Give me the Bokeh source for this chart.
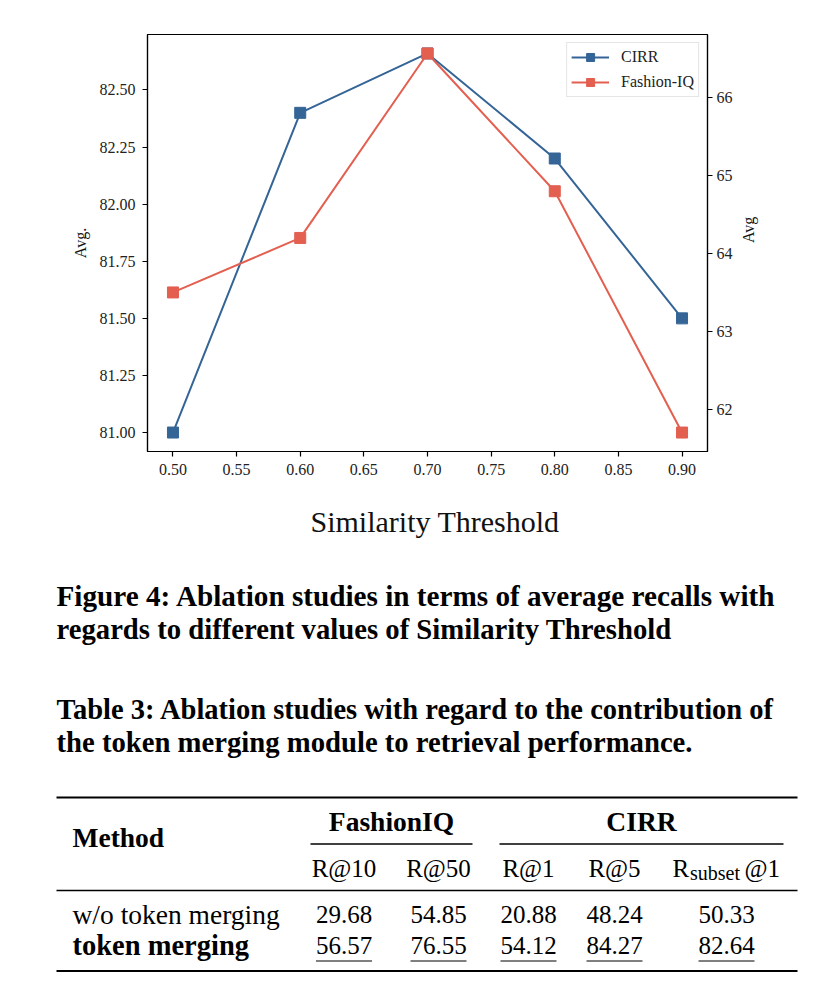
import math
from bokeh.plotting import figure
from bokeh.models import Range1d, LinearAxis, FixedTicker, PrintfTickFormatter, Legend, LegendItem, Title
from bokeh.core.properties import value
from bokeh.embed import file_html
from bokeh.resources import INLINE

# ---------------- data ----------------
thresholds = [0.50, 0.60, 0.70, 0.80, 0.90]
cirr_avg = [81.00, 82.40, 82.66, 82.20, 81.50]
fashioniq_avg = [63.50, 64.20, 66.57, 64.80, 61.70]
x_ticks = [0.50, 0.55, 0.60, 0.65, 0.70, 0.75, 0.80, 0.85, 0.90]
left_ticks = [81.00, 81.25, 81.50, 81.75, 82.00, 82.25, 82.50]
right_ticks = [62, 63, 64, 65, 66]
series_names = ["CIRR", "Fashion-IQ"]
x_label = "Similarity Threshold"

fig_caption = ["Figure 4: Ablation studies in terms of average recalls with",
               "regards to different values of Similarity Threshold"]
tab_caption = ["Table 3: Ablation studies with regard to the contribution of",
               "the token merging module to retrieval performance."]
groups = ["FashionIQ", "CIRR"]
metric_cols = ["R@10", "R@50", "R@1", "R@5", "Rsubset@1"]
methods = ["w/o token merging", "token merging"]
wo_merging = ["29.68", "54.85", "20.88", "48.24", "50.33"]
with_merging = ["56.57", "76.55", "54.12", "84.27", "82.64"]

BLUE = "#346596"
RED = "#e35f50"
SERIF = "Liberation Serif"
W = 830
H1 = 562
H2 = 434


def padded(vals, frac=0.05):
    lo, hi = min(vals), max(vals)
    d = (hi - lo) * frac
    return lo - d, hi + d

# ---------------- chart ----------------
xlo, xhi = padded(thresholds)
ylo, yhi = padded(cirr_avg)
rlo, rhi = padded(fashioniq_avg)

p = figure(width=W, height=H1, title=None, output_backend="svg", toolbar_location=None,
           x_range=Range1d(xlo, xhi), y_range=Range1d(ylo, yhi),
           min_border_left=147, min_border_right=W - 707, min_border_top=34,
           min_border_bottom=H1 - 451)
p.extra_y_ranges = {"right": Range1d(rlo, rhi)}
p.add_layout(LinearAxis(y_range_name="right"), "right")
p.xgrid.visible = False
p.ygrid.visible = False
p.outline_line_color = "black"
p.outline_line_width = 1.2
p.background_fill_color = "white"
p.border_fill_color = "white"

for ax in p.axis:
    ax.major_label_text_font = SERIF
    ax.major_label_text_font_size = "16px"
    ax.major_label_text_color = "#222222"
    ax.axis_label_text_font = SERIF
    ax.axis_label_text_font_style = "normal"
    ax.axis_label_text_color = "#111111"
    ax.minor_tick_line_color = None
    ax.major_tick_in = 0
    ax.major_tick_out = 5
    ax.axis_line_width = 1.2
    ax.major_tick_line_width = 1.2

xa = p.xaxis[0]
xa.ticker = FixedTicker(ticks=x_ticks)
xa.formatter = PrintfTickFormatter(format="%.2f")
xa.major_label_standoff = 7

p.add_layout(Title(text=x_label, align="left", offset=163, standoff=50,
                   text_font=SERIF, text_font_size="30px", text_font_style="normal",
                   text_color="#111111"), "below")

ya = p.yaxis[0]
ya.ticker = FixedTicker(ticks=left_ticks)
ya.formatter = PrintfTickFormatter(format="%.2f")
ya.major_label_standoff = 7
ya.axis_label = "Avg."
ya.axis_label_text_font_size = "16px"
ya.axis_label_standoff = 8

ra = p.yaxis[1]
ra.ticker = FixedTicker(ticks=right_ticks)
ra.formatter = PrintfTickFormatter(format="%d")
ra.major_label_standoff = 4
ra.axis_label = "Avg"
ra.axis_label_text_font_size = "16px"
ra.axis_label_standoff = 13
ra.axis_label_orientation = math.pi / 2

l1 = p.line(thresholds, cirr_avg, line_color=BLUE, line_width=2)
m1 = p.scatter(thresholds, cirr_avg, marker="square", size=11, color=BLUE)
l2 = p.line(thresholds, fashioniq_avg, line_color=RED, line_width=2, y_range_name="right")
m2 = p.scatter(thresholds, fashioniq_avg, marker="square", size=11, color=RED, y_range_name="right")

legend = Legend(items=[LegendItem(label=series_names[0], renderers=[l1, m1]),
                       LegendItem(label=series_names[1], renderers=[l2, m2])],
                location="top_right", margin=8, padding=4, spacing=5,
                glyph_width=38, glyph_height=20, label_height=20, label_standoff=12,
                label_text_font=SERIF, label_text_font_size="16px", label_text_color="#222222",
                border_line_color="#cccccc", border_line_width=1,
                background_fill_color="white", background_fill_alpha=0.85)
p.add_layout(legend)

# ---------------- captions and table ----------------
Y0 = H1
DY = -9.5  # baseline correction for svg text
t = figure(width=W, height=H2, title=None, output_backend="svg", toolbar_location=None,
           x_range=Range1d(0, W), y_range=Range1d(Y0 + H2, Y0),
           x_axis_type=None, y_axis_type=None, min_border=0)
t.outline_line_color = None
t.background_fill_color = "white"
t.border_fill_color = "white"


def txt(xs, ys, texts, size, bold=False, align="left"):
    t.text(x=xs, y=[y + DY for y in ys], text=texts, text_font=value(SERIF), text_font_size=size,
           text_font_style="bold" if bold else "normal", text_align=align,
           text_baseline="alphabetic", text_color="black")

# first caption lines are justified in the source: slightly adjusted sizes
txt([56], [605], fig_caption[:1], "29.2px", bold=True)
txt([56], [637.5], fig_caption[1:], "28.7px", bold=True)
txt([56], [718.5], tab_caption[:1], "28.5px", bold=True)
txt([56], [751], tab_caption[1:], "28.7px", bold=True)

# rules
t.segment(x0=[56, 56], y0=[797, 970.5], x1=[797, 797], y1=[797, 970.5], line_color="black", line_width=2)
t.segment(x0=[56], y0=[890], x1=[797], y1=[890], line_color="black", line_width=1.3)
t.segment(x0=[310, 499], y0=[843.5, 843.5], x1=[472, 783], y1=[843.5, 843.5], line_color="black", line_width=1.3)

col_x = [343.5, 438, 528, 614, 726]
txt([72], [846], ["Method"], "27.5px", bold=True)
txt([391, 641], [830, 830], groups, "27.5px", bold=True, align="center")
txt(col_x[:4], [877.5] * 4, metric_cols[:4], "25px", align="center")
# R_subset@1 with subscript
txt([672], [877.5], [metric_cols[4][0]], "25px")
txt([689.5], [881.5], [metric_cols[4][1:7]], "20px")
txt([744], [877.5], [metric_cols[4][7:]], "25px")

txt([72], [923], [methods[0]], "27.5px")
txt([72], [954.5], [methods[1]], "28.5px", bold=True)
txt(col_x, [923] * 5, wo_merging, "25px", align="center")
txt(col_x, [954.5] * 5, with_merging, "25px", align="center")
t.segment(x0=[c - 28 for c in col_x], y0=[960.5] * 5, x1=[c + 28 for c in col_x], y1=[960.5] * 5,
          line_color="black", line_width=1)

open("out.html", "w").write(file_html([p, t], INLINE))
